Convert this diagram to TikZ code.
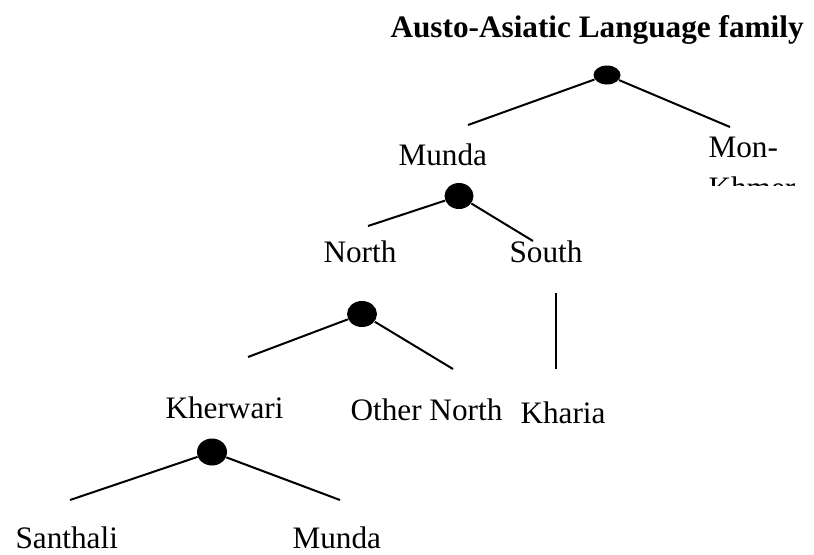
\documentclass[tikz,border=0pt]{standalone}
\usepackage{fontspec}
\setmainfont{Liberation Serif}
\usetikzlibrary{shapes.geometric}
\tikzset{
  lbl/.style={anchor=base west, inner sep=0pt, font=\fontsize{12.5pt}{15pt}\selectfont},
  ttl/.style={anchor=base west, inner sep=0pt, font=\fontsize{12.5pt}{15pt}\selectfont\bfseries},
  dot/.style={ellipse, fill=black, draw=none, inner sep=0pt},
  branch/.style={line width=0.8pt, black}
}
\begin{document}
\begin{tikzpicture}[x=0.4pt, y=-0.4pt]
  \useasboundingbox (0,0) rectangle (814,554);

  % title
  \node[ttl] (title) at (390,37) {Austo-Asiatic Language family};

  % branching points
  \node[dot, minimum width=27*0.4pt, minimum height=19*0.4pt] (d1) at (607,75) {};
  \node[dot, minimum width=29*0.4pt, minimum height=26*0.4pt] (d2) at (459,196) {};
  \node[dot, minimum width=30*0.4pt, minimum height=26*0.4pt] (d3) at (362,314) {};
  \node[dot, minimum width=30*0.4pt, minimum height=27*0.4pt] (d4) at (212,452) {};

  % branch ends
  \coordinate (e1l) at (468,125);
  \coordinate (e1r) at (730,127);
  \coordinate (e2l) at (368,226);
  \coordinate (e2r) at (533,241);
  \coordinate (e3l) at (248,357);
  \coordinate (e3r) at (453,369);
  \coordinate (s1) at (556,293);
  \coordinate (s2) at (556,369);
  \coordinate (e4l) at (70,500);
  \coordinate (e4r) at (340,500);

  \draw[branch] (d1) -- (e1l);
  \draw[branch] (d1) -- (e1r);
  \draw[branch] (d2) -- (e2l);
  \draw[branch] (d2) -- (e2r);
  \draw[branch] (d3) -- (e3l);
  \draw[branch] (d3) -- (e3r);
  \draw[branch] (s1) -- (s2);
  \draw[branch] (d4) -- (e4l);
  \draw[branch] (d4) -- (e4r);

  % labels
  \node[lbl] (munda) at (398,165) {Munda};
  \node[lbl] (mon) at (708,157) {Mon-};
  \begin{scope}
    \clip (700,140) rectangle (814,185);
    \node[lbl] (khmer) at (708,198) {Khmer};
  \end{scope}
  \node[lbl] (north) at (323,262) {North};
  \node[lbl] (south) at (509,262) {South};
  \node[lbl] (kherwari) at (165,418) {Kherwari};
  \node[lbl] (othernorth) at (350,420) {Other North};
  \node[lbl] (kharia) at (520,423) {Kharia};
  \node[lbl] (santhali) at (15,548) {Santhali};
  \node[lbl] (munda2) at (292,548) {Munda};
\end{tikzpicture}
\end{document}
